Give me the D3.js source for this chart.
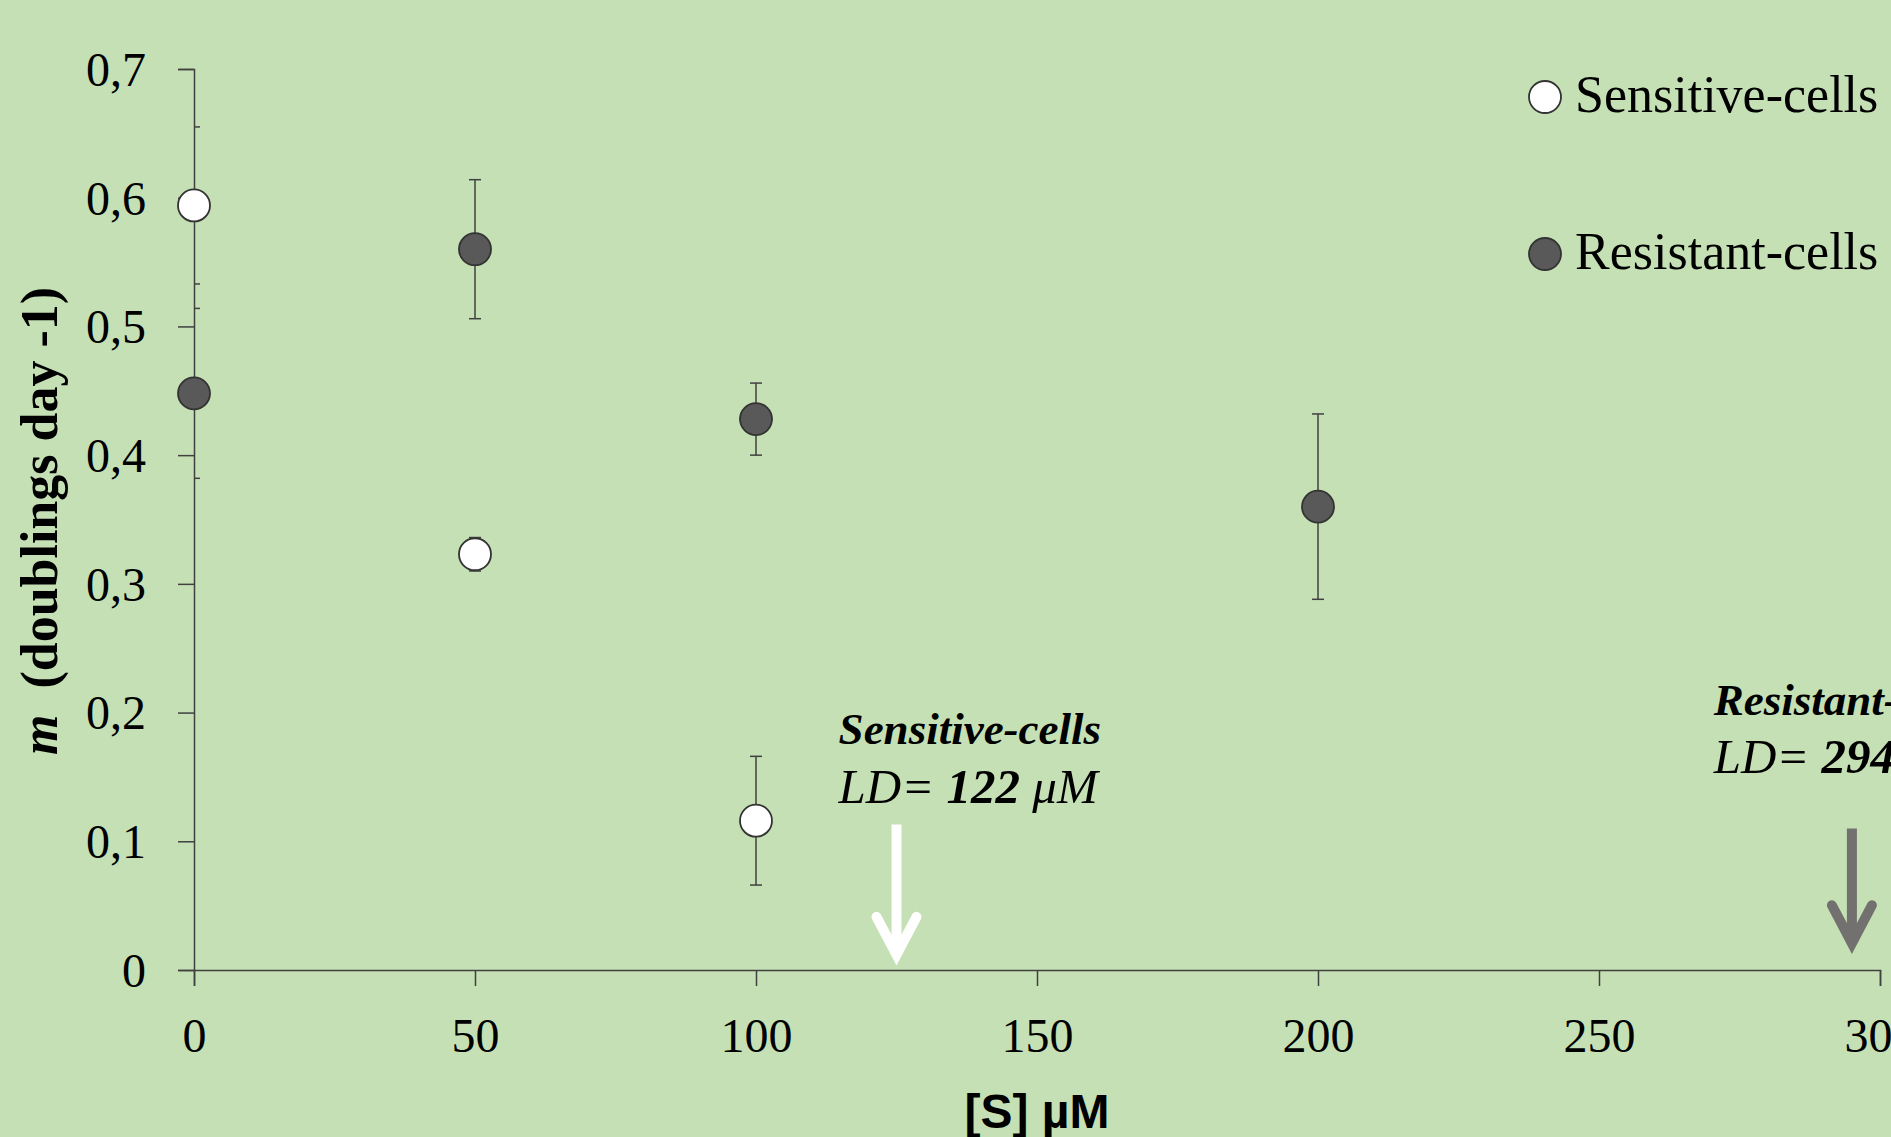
<!DOCTYPE html>
<html>
<head>
<meta charset="utf-8">
<script src="https://cdn.jsdelivr.net/npm/d3@7"></script>
<style>
  html, body { margin: 0; padding: 0; background: #c5e0b4; overflow: hidden; }
  svg { display: block; }
</style>
</head>
<body>
<svg id="chart" width="1891" height="1137"></svg>
<script>
// ---- data ----
const concentrations = [0, 50, 100, 200];
const sensitiveX = [0, 50, 100];
const sensitiveY = [0.594, 0.323, 0.116];
const sensitiveErr = [0.061, 0.013, 0.050];
const resistantX = [0, 50, 100, 200];
const resistantY = [0.448, 0.560, 0.428, 0.360];
const resistantErr = [0.066, 0.054, 0.028, 0.072];
const xTicks = [0, 50, 100, 150, 200, 250, 300];
const yTicks = [0, 0.1, 0.2, 0.3, 0.4, 0.5, 0.6, 0.7];
const seriesNames = ["Sensitive-cells", "Resistant-cells"];
const ldValues = [122, 294];
const ldArrowX = [125, 295];

// ---- layout ----
const svg = d3.select("#chart");
const W = 1891, H = 1137;
const m = { left: 194, right: 1880, top: 69, bottom: 970 };
const serif = "'Liberation Serif', 'Times New Roman', serif";
const axisColor = "#404040";

svg.append("rect").attr("width", W).attr("height", H).attr("fill", "#c5e0b4");

const x = d3.scaleLinear().domain([0, 300]).range([m.left, m.right]);
const y = d3.scaleLinear().domain([0, 0.7]).range([m.bottom, m.top]);

const fmt = v => v === 0 ? "0" : d3.format(".1f")(v).replace(".", ",");

// y axis
const yAxis = svg.append("g")
  .attr("transform", `translate(${m.left},0)`)
  .call(d3.axisLeft(y).tickValues(yTicks).tickFormat(fmt).tickSizeOuter(0).tickSize(16).tickPadding(32));
// x axis
const xAxis = svg.append("g")
  .attr("transform", `translate(0,${m.bottom})`)
  .call(d3.axisBottom(x).tickValues(xTicks).tickFormat(d3.format("d")).tickSizeOuter(0).tickSize(16).tickPadding(32));

[xAxis, yAxis].forEach(g => {
  g.select(".domain").attr("stroke", axisColor).attr("stroke-width", 1.5);
  g.selectAll(".tick line").attr("stroke", axisColor).attr("stroke-width", 1.5);
  g.selectAll(".tick text").attr("fill", "#000").style("font-family", serif).style("font-size", "48px");
});
xAxis.selectAll(".tick text").attr("dy", "0.71em");
yAxis.selectAll(".tick text").attr("dy", "0.34em");

// axis titles
const yTitle = svg.append("text")
  .attr("transform", `translate(57,521) rotate(-90)`)
  .attr("text-anchor", "middle")
  .style("font-family", serif).style("font-size", "52px").style("font-weight", "bold")
  .attr("fill", "#000");
yTitle.append("tspan").style("font-style", "italic").text("m");
yTitle.append("tspan").text("\u00a0 (doublings day -1)");

svg.append("text")
  .attr("x", x(150)).attr("y", 1128)
  .attr("text-anchor", "middle")
  .style("font-family", "'Liberation Sans', Arial, sans-serif").style("font-size", "48px").style("font-weight", "bold")
  .attr("fill", "#000")
  .text("[S] \u00b5M");

// clip for error bars (inside the plot area)
svg.append("clipPath").attr("id", "plotclip")
  .append("rect").attr("x", m.left).attr("y", 0).attr("width", W - m.left).attr("height", m.bottom);

function drawSeries(xs, ys, errs, fill) {
  const data = xs.map((d, i) => ({ x: d, y: ys[i], e: errs[i] }));
  const eb = svg.append("g").attr("clip-path", "url(#plotclip)")
    .attr("stroke", axisColor).attr("stroke-width", 1.5);
  eb.selectAll("line.v").data(data).join("line")
    .attr("x1", d => x(d.x)).attr("x2", d => x(d.x))
    .attr("y1", d => y(d.y + d.e)).attr("y2", d => y(d.y - d.e));
  eb.selectAll("line.t").data(data).join("line")
    .attr("x1", d => x(d.x) - 6).attr("x2", d => x(d.x) + 6)
    .attr("y1", d => y(d.y + d.e)).attr("y2", d => y(d.y + d.e));
  eb.selectAll("line.b").data(data).join("line")
    .attr("x1", d => x(d.x) - 6).attr("x2", d => x(d.x) + 6)
    .attr("y1", d => y(d.y - d.e)).attr("y2", d => y(d.y - d.e));
  svg.append("g").selectAll("circle").data(data).join("circle")
    .attr("cx", d => x(d.x)).attr("cy", d => y(d.y)).attr("r", 16)
    .attr("fill", fill).attr("stroke", "#333").attr("stroke-width", 1.8);
}
drawSeries(resistantX, resistantY, resistantErr, "#595959");
drawSeries(sensitiveX, sensitiveY, sensitiveErr, "#ffffff");

// legend
const legend = svg.append("g");
const legendFills = ["#ffffff", "#595959"];
const legendY = [97, 254];
seriesNames.forEach((name, i) => {
  legend.append("circle").attr("cx", 1545).attr("cy", legendY[i]).attr("r", 16)
    .attr("fill", legendFills[i]).attr("stroke", "#333").attr("stroke-width", 1.8);
  legend.append("text").attr("x", 1575).attr("y", legendY[i] + 15)
    .style("font-family", serif).style("font-size", "52px").attr("fill", "#000").text(name);
});

// LD annotations
const annX = [114.7, 270.4];
const annY1 = [0.1756, 0.198];
const annY2 = [0.130, 0.153];
const arrowColors = ["#ffffff", "#737070"];
const arrowTop = [0.113, 0.110];
const arrowTip = [0.004, 0.013];
seriesNames.forEach((name, i) => {
  svg.append("text").attr("x", x(annX[i])).attr("y", y(annY1[i]))
    .style("font-family", serif).style("font-size", "45px").style("font-style", "italic").style("font-weight", "bold")
    .attr("fill", "#000").text(name);
  const t2 = svg.append("text").attr("x", x(annX[i])).attr("y", y(annY2[i]))
    .style("font-family", serif).style("font-size", "49px").style("font-style", "italic")
    .attr("fill", "#000");
  t2.append("tspan").text("LD= ");
  t2.append("tspan").style("font-weight", "bold").text(ldValues[i]);
  t2.append("tspan").text(" \u03bcM");

  const ax = x(ldArrowX[i]);
  const ytop = y(arrowTop[i]), ytip = y(arrowTip[i]);
  const g = svg.append("g").attr("stroke", arrowColors[i]).attr("fill", "none");
  g.append("line").attr("x1", ax).attr("x2", ax).attr("y1", ytop).attr("y2", ytip - 12)
    .attr("stroke-width", 10);
  g.append("path")
    .attr("d", `M${ax - 20},${ytip - 48} L${ax},${ytip - 10} L${ax + 20},${ytip - 48}`)
    .attr("stroke-width", 10).attr("stroke-linecap", "round").attr("stroke-linejoin", "miter")
    .attr("stroke-miterlimit", 10);
});
</script>
</body>
</html>
